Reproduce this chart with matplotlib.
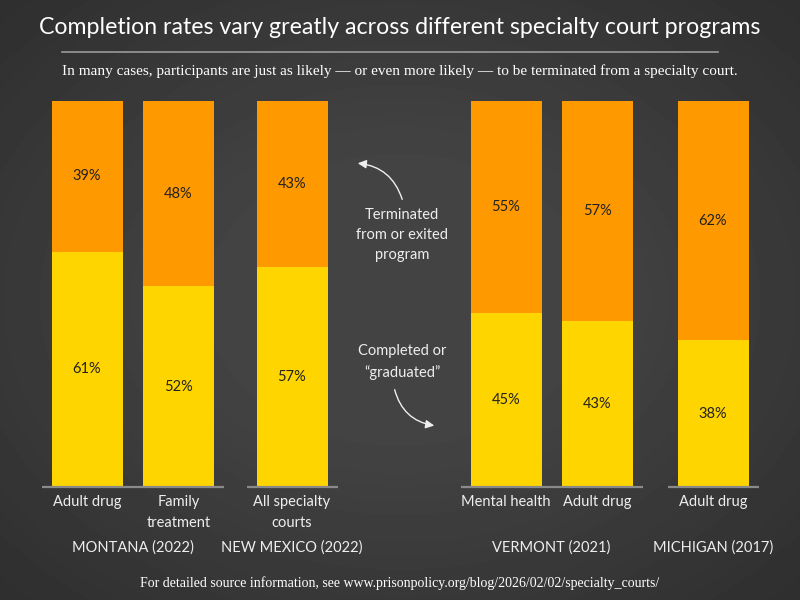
import matplotlib
matplotlib.use("Agg")
import matplotlib.pyplot as plt
import numpy as np

# data
programs = ["Adult drug", "Family\ntreatment", "All specialty\ncourts",
            "Mental health", "Adult drug", "Adult drug"]
completed = [61, 52, 57, 45, 43, 38]
terminated = [39, 48, 43, 55, 57, 62]
states = ["MONTANA (2022)", "NEW MEXICO (2022)", "VERMONT (2021)", "MICHIGAN (2017)"]
state_groups = [[0, 1], [2], [3, 4], [5]]

# layout (pixel-like x units across the 800px figure)
xpos = [87, 178.5, 292, 506, 597, 713]
bar_w = 71
orange = "#FF9900"
yellow = "#FFD500"
font = "Lato"

fig = plt.figure(figsize=(8, 6), dpi=100)

# background with soft vignette
bg = fig.add_axes([0, 0, 1, 1])
yy, xx = np.mgrid[-1:1:300j, -1:1:400j]
r = np.sqrt(xx**2 + yy**2)
bg.imshow(0.265 - 0.085 * np.clip(r - 0.45, 0, None), cmap="gray", vmin=0, vmax=1,
          extent=[0, 1, 0, 1], aspect="auto")
bg.axis("off")

ax = fig.add_axes([0, 1 - 487 / 600, 1, 386 / 600])
ax.set_xlim(0, 800)
ax.set_ylim(0, 100)
ax.axis("off")

ax.bar(xpos, completed, width=bar_w, color=yellow, edgecolor="none")
ax.bar(xpos, terminated, width=bar_w, bottom=completed, color=orange, edgecolor="none")

for x, c, t in zip(xpos, completed, terminated):
    ax.text(x, c / 2, f"{c}%", ha="center", va="center", fontsize=10.5,
            color="#222222", family=font)
    ax.text(x, c + t / 2, f"{t}%", ha="center", va="center", fontsize=10.5,
            color="#222222", family=font)

for x, p in zip(xpos, programs):
    ax.text(x, -2.2, p, ha="center", va="top", fontsize=10.5, color="#eeeeee",
            family=font, linespacing=1.55, clip_on=False)

for s, g in zip(states, state_groups):
    lo = xpos[g[0]] - bar_w / 2 - 10
    hi = xpos[g[-1]] + bar_w / 2 + 10
    ax.plot([lo, hi], [0, 0], color="#8a8a8a", lw=1.6, clip_on=False,
            solid_capstyle="butt")
    ax.text((xpos[g[0]] + xpos[g[-1]]) / 2, -15.8, s, ha="center", va="center",
            fontsize=10.5, color="#eeeeee", family=font, clip_on=False)

# title, rule, subtitle, footer
fig.text(0.5, 1 - 28 / 600, "Completion rates vary greatly across different specialty court programs",
         ha="center", va="center", fontsize=16.7, color="white", family=font)
fig.add_artist(plt.Line2D([62 / 800, 718 / 800], [1 - 52 / 600, 1 - 52 / 600],
                          color="#9a9a9a", lw=1.2))
fig.text(0.5, 1 - 71 / 600,
         "In many cases, participants are just as likely \u2014 or even more likely \u2014 to be terminated from a specialty court.",
         ha="center", va="center", fontsize=11, color="white", family="Liberation Serif")
fig.text(0.5, 1 - 583 / 600,
         "For detailed source information, see www.prisonpolicy.org/blog/2026/02/02/specialty_courts/",
         ha="center", va="center", fontsize=10, color="white", family="Liberation Serif")

# annotations
fig.text(402 / 800, 1 - 235 / 600, "Terminated\nfrom or exited\nprogram", ha="center",
         va="center", fontsize=10.5, color="#eeeeee", family=font, linespacing=1.55)
fig.text(402 / 800, 1 - 362 / 600, "Completed or\n\u201cgraduated\u201d", ha="center",
         va="center", fontsize=10.5, color="#eeeeee", family=font, linespacing=1.55)
fig.add_artist(matplotlib.patches.FancyArrowPatch(
    (403 / 800, 1 - 202 / 600), (355 / 800, 1 - 163 / 600), transform=fig.transFigure,
    connectionstyle="arc3,rad=0.35", arrowstyle="-|>,head_length=5,head_width=2.5",
    color="#eeeeee", lw=1))
fig.add_artist(matplotlib.patches.FancyArrowPatch(
    (394 / 800, 1 - 387 / 600), (437 / 800, 1 - 426 / 600), transform=fig.transFigure,
    connectionstyle="arc3,rad=0.35", arrowstyle="-|>,head_length=5,head_width=2.5",
    color="#eeeeee", lw=1))

fig.savefig("out.png", dpi=100)
